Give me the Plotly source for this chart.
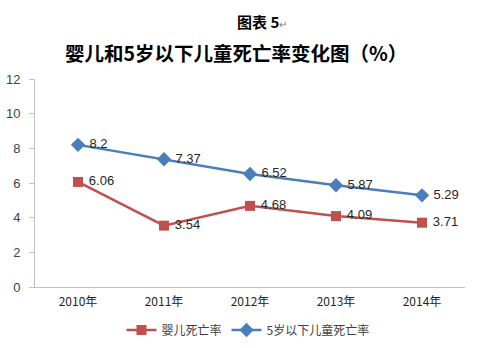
import plotly.graph_objects as go

years = ["2010年", "2011年", "2012年", "2013年", "2014年"]
infant = [6.06, 3.54, 4.68, 4.09, 3.71]
under5 = [8.2, 7.37, 6.52, 5.87, 5.29]
infant_labels = ["6.06", "3.54", "4.68", "4.09", "3.71"]
under5_labels = ["8.2", "7.37", "6.52", "5.87", "5.29"]

font_cjk = "Noto Sans CJK SC, Noto Sans, sans-serif"
font_num = "Liberation Sans, Arial, sans-serif"

L, R, T, B = 35, 19, 79, 61
W, H = 484, 348
pw, ph = W - L - R, H - T - B

fig = go.Figure()
fig.add_trace(go.Scatter(
    x=years, y=infant, name="婴儿死亡率", mode="lines+markers+text",
    line=dict(color="#C0504D", width=2.5),
    marker=dict(symbol="square", size=10, color="#C0504D"),
    text=[" " + t for t in infant_labels], textposition="middle right",
    textfont=dict(size=13, color="#262626", family=font_num),
))
fig.add_trace(go.Scatter(
    x=years, y=under5, name="5岁以下儿童死亡率", mode="lines+markers+text",
    line=dict(color="#4A7EBB", width=2.5),
    marker=dict(symbol="diamond", size=11, color="#4A7EBB"),
    text=[" " + t for t in under5_labels], textposition="middle right",
    textfont=dict(size=13, color="#262626", family=font_num),
))

fig.update_layout(
    width=W, height=H,
    margin=dict(l=L, r=R, t=T, b=B, autoexpand=False),
    paper_bgcolor="white", plot_bgcolor="white",
    font=dict(family=font_cjk, size=11, color="#404040"),
    showlegend=True,
    legend=dict(orientation="h", xref="container", x=248 / W, xanchor="center",
                yref="container", y=1 - 330 / H, yanchor="middle",
                font=dict(size=12, color="#404040", family=font_cjk),
                itemwidth=30, traceorder="normal"),
    xaxis=dict(type="category", range=[-0.5, 4.5], showline=True, linecolor="#BFBFBF",
               linewidth=1, ticks="", showgrid=False, zeroline=False, ticklabelstandoff=4,
               automargin=False,
               tickfont=dict(size=12, color="#262626", family=font_cjk)),
    yaxis=dict(range=[0, 12], dtick=2, showline=True, linecolor="#BFBFBF", linewidth=1,
               ticks="outside", ticklen=5, tickcolor="#BFBFBF", showgrid=False,
               zeroline=False, ticklabelstandoff=6, automargin=False,
               tickfont=dict(size=13, color="#404040", family=font_num)),
    annotations=[
        dict(text="<b>图表 5</b><span style='font-size:10px;color:#808080'>↵</span>",
             x=(262 - L) / pw, y=1 + (T - 21) / ph, yanchor="middle",
             xref="paper", yref="paper", showarrow=False,
             font=dict(size=15, color="black", family=font_cjk)),
        dict(text="<b>婴儿和5岁以下儿童死亡率变化图（%）</b>",
             x=(236 - L) / pw, y=1 + (T - 52) / ph, yanchor="middle",
             xref="paper", yref="paper", showarrow=False,
             font=dict(size=19.5, color="black", family=font_cjk)),
    ],
)

fig.write_html("out.html")
